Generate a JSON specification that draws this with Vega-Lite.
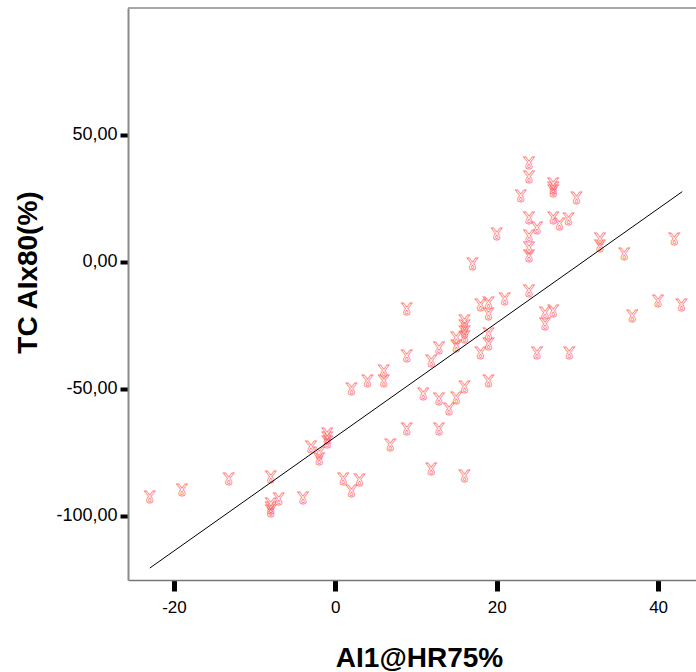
{
  "$schema": "https://vega.github.io/schema/vega-lite/v6.json",
  "autosize": {"type": "none"},
  "width": 568,
  "height": 572,
  "padding": {"left": 128, "top": 8, "right": 0, "bottom": 92},
  "background": "white",
  "config": {"view": {"stroke": null}},
  "layer": [
    {
      "data": {"values": [{"y": 100}]},
      "mark": {"type": "rule", "color": "#8a8a8a", "strokeWidth": 1.5},
      "encoding": {"y": {"field": "y", "type": "quantitative", "scale": {"domain": [-125.2, 100], "nice": false, "zero": false}}}
    },
    {
      "data": {"values": [
        {"x": -23.0, "y": -92.3}, {"x": -19.0, "y": -89.2}, {"x": -13.2, "y": -85.2}, {"x": -8.0, "y": -84.4},
        {"x": -8.0, "y": -95.0}, {"x": -8.0, "y": -96.5}, {"x": -8.0, "y": -97.5}, {"x": -7.0, "y": -93.0},
        {"x": -4.0, "y": -92.4}, {"x": -3.0, "y": -72.5}, {"x": -2.0, "y": -75.0}, {"x": -2.0, "y": -77.0},
        {"x": -1.0, "y": -67.5}, {"x": -1.0, "y": -69.0}, {"x": -1.0, "y": -70.5}, {"x": 1.0, "y": -85.2},
        {"x": 2.0, "y": -89.8}, {"x": 3.0, "y": -85.5}, {"x": 2.0, "y": -49.7}, {"x": 4.0, "y": -46.5},
        {"x": 6.0, "y": -42.5}, {"x": 6.0, "y": -46.5}, {"x": 6.8, "y": -71.7}, {"x": 8.85, "y": -18.2},
        {"x": 8.85, "y": -36.6}, {"x": 8.85, "y": -65.5}, {"x": 10.9, "y": -51.4}, {"x": 11.9, "y": -38.6},
        {"x": 11.9, "y": -81.2}, {"x": 12.85, "y": -33.3}, {"x": 12.85, "y": -53.7}, {"x": 12.85, "y": -65.5},
        {"x": 14.1, "y": -57.6}, {"x": 15.0, "y": -29.4}, {"x": 15.0, "y": -32.7}, {"x": 15.0, "y": -53.0},
        {"x": 16.0, "y": -23.0}, {"x": 16.0, "y": -25.0}, {"x": 16.0, "y": -27.0}, {"x": 16.0, "y": -29.0},
        {"x": 16.0, "y": -48.8}, {"x": 16.0, "y": -84.0}, {"x": 17.0, "y": -0.3}, {"x": 18.0, "y": -16.5},
        {"x": 18.0, "y": -35.3}, {"x": 19.0, "y": -15.6}, {"x": 19.0, "y": -20.2}, {"x": 19.0, "y": -28.1},
        {"x": 19.0, "y": -32.0}, {"x": 19.0, "y": -46.5}, {"x": 20.0, "y": 11.5}, {"x": 21.0, "y": -14.3},
        {"x": 23.0, "y": 26.4}, {"x": 24.0, "y": 39.5}, {"x": 24.0, "y": 33.9}, {"x": 24.0, "y": 17.8},
        {"x": 24.0, "y": 10.6}, {"x": 24.0, "y": 6.0}, {"x": 24.0, "y": 2.8}, {"x": 24.0, "y": -11.0},
        {"x": 25.0, "y": 13.9}, {"x": 25.0, "y": -35.3}, {"x": 26.0, "y": -19.6}, {"x": 26.0, "y": -24.1},
        {"x": 27.0, "y": 31.0}, {"x": 27.0, "y": 29.5}, {"x": 27.0, "y": 28.3}, {"x": 27.0, "y": 17.8},
        {"x": 27.0, "y": -18.9}, {"x": 27.8, "y": 15.5}, {"x": 28.9, "y": 17.2}, {"x": 29.0, "y": -35.3},
        {"x": 29.9, "y": 25.7}, {"x": 32.8, "y": 9.3}, {"x": 32.8, "y": 6.7}, {"x": 35.8, "y": 3.7},
        {"x": 36.8, "y": -21.0}, {"x": 40.0, "y": -15.0}, {"x": 42.0, "y": 9.3}, {"x": 42.9, "y": -16.5}
      ]},
      "mark": {"type": "text", "text": "ɤ", "font": "DejaVu Sans", "fontSize": 22, "fill": "#ffffff", "fillOpacity": 0, "stroke": "#ff5a5a", "strokeWidth": 0.8, "strokeOpacity": 0.8, "align": "center", "baseline": "middle"},
      "encoding": {
        "x": {"field": "x", "type": "quantitative",
          "scale": {"domain": [-25.7, 44.7], "nice": false, "zero": false},
          "axis": {"values": [-20, 0, 20, 40], "grid": false, "title": "AI1@HR75%",
            "labelExpr": "(datum.value < 0 ? '-' : '') + format(abs(datum.value), 'd')",
            "labelFont": "Liberation Sans", "labelFontSize": 17, "labelColor": "black", "labelPadding": 8,
            "tickSize": 11, "tickWidth": 5, "tickColor": "black", "domainColor": "#777", "domainWidth": 1.5,
            "titleFont": "Liberation Sans", "titleFontSize": 28, "titleFontWeight": "bold", "titleColor": "black",
            "titleX": 291, "titleY": 86, "titleBaseline": "alphabetic", "titleAnchor": null}},
        "y": {"field": "y", "type": "quantitative",
          "scale": {"domain": [-125.2, 100], "nice": false, "zero": false},
          "axis": {"values": [-100, -50, 0, 50], "grid": false, "title": "TC AIx80(%)",
            "labelExpr": "(datum.value < 0 ? '-' : '') + replace(format(abs(datum.value), '.2f'), '.', ',')",
            "labelFont": "Liberation Sans", "labelFontSize": 18, "labelColor": "black", "labelPadding": 3,
            "tickSize": 8, "tickWidth": 4, "tickColor": "black", "domainColor": "#8a8a8a", "domainWidth": 2,
            "titleFont": "Liberation Sans", "titleFontSize": 28, "titleFontWeight": "bold", "titleColor": "black",
            "titleX": -92, "titleY": 264, "titleBaseline": "alphabetic", "titleAngle": -90, "titleAnchor": null}}
      }
    },
    {
      "data": {"values": [{"x": -23.0, "y": -120.5}, {"x": 43.0, "y": 27.7}]},
      "mark": {"type": "line", "color": "black", "strokeWidth": 1},
      "encoding": {
        "x": {"field": "x", "type": "quantitative"},
        "y": {"field": "y", "type": "quantitative"}
      }
    }
  ]
}
